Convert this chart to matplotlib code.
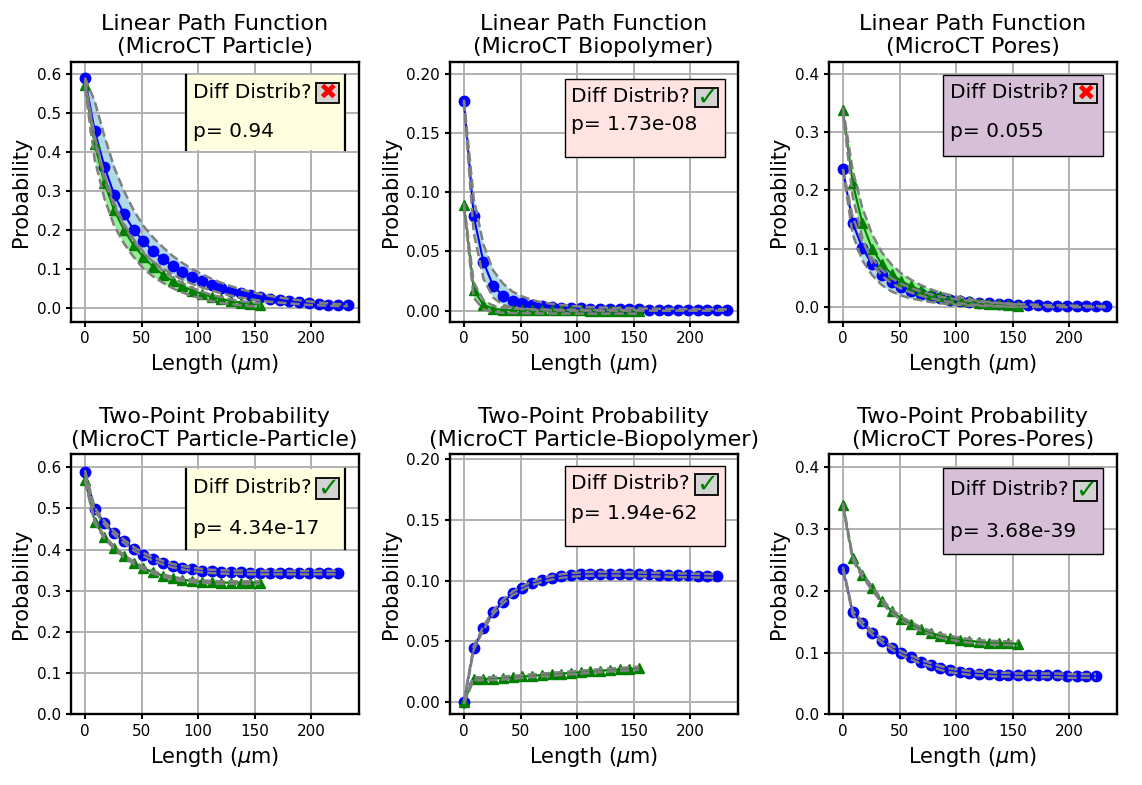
import numpy as np
import matplotlib
matplotlib.use('Agg')
import matplotlib.pyplot as plt
from matplotlib.patches import Rectangle

# sample spacing (um) of the two images
step = 8.6
len_long = np.arange(28) * step     # original, linear path
len_mid = np.arange(27) * step      # original, two-point
len_short = np.arange(19) * step    # generated

# ---- Linear path: Particle
lp_part_b = [0.588, 0.454, 0.362, 0.290, 0.241, 0.200, 0.170, 0.145, 0.125, 0.107, 0.092,
             0.079, 0.068, 0.058, 0.050, 0.043, 0.037, 0.032, 0.027, 0.023, 0.020, 0.017,
             0.014, 0.012, 0.010, 0.008, 0.007, 0.006]
lp_part_b_hi = [0.590, 0.530, 0.440, 0.360, 0.300, 0.250, 0.210, 0.180, 0.155, 0.133, 0.115,
                0.099, 0.086, 0.074, 0.064, 0.055, 0.047, 0.041, 0.035, 0.030, 0.026, 0.022,
                0.019, 0.016, 0.013, 0.011, 0.009, 0.008]
lp_part_b_lo = [0.585, 0.430, 0.330, 0.260, 0.210, 0.170, 0.140, 0.118, 0.100, 0.085, 0.072,
                0.061, 0.052, 0.044, 0.037, 0.031, 0.026, 0.022, 0.018, 0.015, 0.013, 0.011,
                0.009, 0.007, 0.006, 0.005, 0.004, 0.004]
lp_part_g = [0.570, 0.420, 0.320, 0.250, 0.200, 0.160, 0.130, 0.105, 0.085, 0.068, 0.055,
             0.044, 0.035, 0.028, 0.022, 0.017, 0.013, 0.010, 0.008]
lp_part_g_hi = [0.575, 0.440, 0.340, 0.270, 0.215, 0.175, 0.143, 0.117, 0.095, 0.077, 0.063,
                0.051, 0.041, 0.033, 0.027, 0.021, 0.017, 0.013, 0.011]
lp_part_g_lo = [0.565, 0.380, 0.280, 0.210, 0.165, 0.130, 0.100, 0.080, 0.064, 0.050, 0.039,
                0.030, 0.023, 0.017, 0.012, 0.009, 0.006, 0.004, 0.003]

# ---- Linear path: Biopolymer
lp_bio_b = [0.177, 0.080, 0.041, 0.021, 0.0125, 0.0085, 0.0062, 0.0048, 0.0038, 0.0031, 0.0026,
            0.0022, 0.0019, 0.0017, 0.0015, 0.0013, 0.0012, 0.0011, 0.0010, 0.0009, 0.0008,
            0.0008, 0.0007, 0.0007, 0.0006, 0.0006, 0.0006, 0.0005]
lp_bio_b_hi = [0.178, 0.095, 0.056, 0.034, 0.023, 0.016, 0.012, 0.009, 0.007, 0.0058, 0.0048,
               0.0040, 0.0034, 0.0030, 0.0027, 0.0024, 0.0022, 0.0020, 0.0018, 0.0017, 0.0016,
               0.0015, 0.0014, 0.0013, 0.0013, 0.0012, 0.0012, 0.0011]
lp_bio_b_lo = [0.176, 0.066, 0.027, 0.011, 0.005, 0.0025, 0.0013, 0.0007, 0.0004, 0.0002, 0.0001,
               0.0, 0.0, 0.0, 0.0, 0.0, 0.0, 0.0, 0.0, 0.0, 0.0, 0.0, 0.0, 0.0, 0.0, 0.0, 0.0, 0.0]
lp_bio_g = [0.0895, 0.0175, 0.005, 0.0015, 0.0008, 0.0005, 0.0004, 0.0003, 0.0003, 0.0002,
            0.0002, 0.0002, 0.0002, 0.0001, 0.0001, 0.0001, 0.0001, 0.0001, 0.0001]
lp_bio_g_hi = [0.091, 0.024, 0.009, 0.004, 0.0025, 0.0018, 0.0014, 0.0012, 0.0010, 0.0009,
               0.0008, 0.0008, 0.0007, 0.0007, 0.0006, 0.0006, 0.0006, 0.0005, 0.0005]
lp_bio_g_lo = [0.088, 0.011, 0.001, -0.001, -0.0017, -0.002, -0.0022, -0.0023, -0.0024, -0.0024,
               -0.0025, -0.0025, -0.0025, -0.0025, -0.0025, -0.0025, -0.0025, -0.0025, -0.0025]

# ---- Linear path: Pores
lp_pore_b = [0.236, 0.145, 0.101, 0.074, 0.055, 0.043, 0.034, 0.028, 0.023, 0.019, 0.016,
             0.013, 0.011, 0.0095, 0.008, 0.007, 0.006, 0.005, 0.0045, 0.004, 0.0035, 0.003,
             0.0027, 0.0024, 0.0021, 0.0019, 0.0017, 0.0015]
lp_pore_b_hi = [0.237, 0.155, 0.112, 0.084, 0.064, 0.050, 0.040, 0.033, 0.027, 0.022, 0.018,
                0.015, 0.013, 0.011, 0.0095, 0.0082, 0.0071, 0.0062, 0.0054, 0.0048, 0.0042,
                0.0037, 0.0033, 0.0030, 0.0027, 0.0024, 0.0022, 0.0020]
lp_pore_b_lo = [0.235, 0.125, 0.080, 0.055, 0.038, 0.027, 0.020, 0.015, 0.012, 0.009, 0.007,
                0.005, 0.004, 0.003, 0.0025, 0.002, 0.0015, 0.001, 0.0008, 0.0006, 0.0005,
                0.0004, 0.0003, 0.0002, 0.0002, 0.0001, 0.0001, 0.0]
lp_pore_g = [0.338, 0.213, 0.144, 0.100, 0.074, 0.057, 0.045, 0.036, 0.029, 0.023, 0.019,
             0.015, 0.012, 0.010, 0.008, 0.006, 0.005, 0.004, 0.003]
lp_pore_g_hi = [0.342, 0.235, 0.170, 0.125, 0.094, 0.073, 0.058, 0.047, 0.038, 0.031, 0.025,
                0.021, 0.017, 0.014, 0.011, 0.009, 0.0075, 0.006, 0.005]
lp_pore_g_lo = [0.334, 0.190, 0.118, 0.075, 0.054, 0.041, 0.032, 0.025, 0.020, 0.015, 0.012,
                0.009, 0.007, 0.005, 0.004, 0.003, 0.002, 0.001, 0.0005]

# ---- Two-point: Particle-Particle
tp_pp_b = [0.589, 0.498, 0.465, 0.440, 0.420, 0.402, 0.388, 0.377, 0.368, 0.361, 0.356, 0.352,
           0.349, 0.347, 0.346, 0.345, 0.345, 0.344, 0.344, 0.344, 0.344, 0.344, 0.344, 0.344,
           0.344, 0.344, 0.344]
tp_pp_g = [0.570, 0.468, 0.430, 0.405, 0.384, 0.368, 0.355, 0.345, 0.337, 0.331, 0.327, 0.324,
           0.322, 0.321, 0.320, 0.320, 0.320, 0.320, 0.320]
# ---- Two-point: Particle-Biopolymer
tp_pb_b = [0.000, 0.0445, 0.061, 0.074, 0.0827, 0.0895, 0.094, 0.0978, 0.1005, 0.1024, 0.1038,
           0.1047, 0.1053, 0.1056, 0.1057, 0.1057, 0.1056, 0.1055, 0.1053, 0.1051, 0.1049,
           0.1047, 0.1045, 0.1043, 0.1041, 0.1040, 0.1038]
tp_pb_g = [0.0, 0.0195, 0.0192, 0.0195, 0.0200, 0.0205, 0.0212, 0.0218, 0.0224, 0.0230, 0.0236,
           0.0242, 0.0248, 0.0254, 0.0260, 0.0265, 0.0270, 0.0275, 0.0280]
# ---- Two-point: Pores-Pores
tp_oo_b = [0.236, 0.165, 0.147, 0.132, 0.119, 0.108, 0.099, 0.092, 0.085, 0.080, 0.075, 0.071,
           0.069, 0.067, 0.066, 0.065, 0.064, 0.064, 0.063, 0.063, 0.063, 0.063, 0.063, 0.062,
           0.062, 0.062, 0.062]
tp_oo_g = [0.339, 0.253, 0.225, 0.204, 0.183, 0.167, 0.155, 0.146, 0.138, 0.132, 0.127, 0.124,
           0.121, 0.119, 0.117, 0.116, 0.1155, 0.115, 0.114]
# half widths of the (thin) bands in the two-point plots: blue, green
tp_spread = [(0.004, 0.003), (0.0015, 0.0012), (0.003, 0.003)]

titles = ['Linear Path Function\n(MicroCT Particle)',
          'Linear Path Function\n(MicroCT Biopolymer)',
          'Linear Path Function\n(MicroCT Pores)',
          'Two-Point Probability\n(MicroCT Particle-Particle)',
          'Two-Point Probability\n(MicroCT Particle-Biopolymer)',
          'Two-Point Probability\n(MicroCT Pores-Pores)']
p_values = [0.94, 1.73e-08, 0.055, 4.34e-17, 1.94e-62, 3.68e-39]
different = [False, True, False, True, True, True]
box_colors = ['lightyellow', 'mistyrose', 'thistle']

ylims = [(-0.036, 0.631), (-0.0093, 0.210), (-0.0247, 0.4206),
         (0.0, 0.6315), (-0.0099, 0.204), (0.0, 0.421)]
yticks = [np.arange(0, 0.61, 0.1), np.arange(0, 0.201, 0.05), np.arange(0, 0.41, 0.1)]

# box layout in axes fraction: x0, x1, y0, y1, text1 y, text2 y, icon y0, icon y1
box_pos = [(0.400, 0.952, 0.660, 0.949, 0.882, 0.731, 0.842, 0.917),
           (0.399, 0.955, 0.632, 0.933, 0.865, 0.757, 0.827, 0.898),
           (0.398, 0.954, 0.637, 0.949, 0.882, 0.731, 0.840, 0.914),
           (0.402, 0.954, 0.635, 0.945, 0.874, 0.714, 0.829, 0.910),
           (0.399, 0.955, 0.648, 0.955, 0.887, 0.772, 0.845, 0.923),
           (0.398, 0.954, 0.618, 0.949, 0.864, 0.703, 0.822, 0.899)]


def band(ax, x, y, lo, hi, color, fill, marker):
    ax.fill_between(x, lo, hi, color=fill, alpha=0.95, lw=0, zorder=1)
    ax.plot(x, y, '-', color=color, marker=marker, ms=7.5, lw=1.5, zorder=2)
    ax.plot(x, lo, '--', color='gray', lw=1.8, zorder=3)
    ax.plot(x, hi, '--', color='gray', lw=1.8, zorder=3)


def draw_box(ax, pos, color, sides_only, diff, p):
    x0, x1, y0, y1, t1, t2, i0, i1 = pos
    if sides_only:
        ax.add_patch(Rectangle((x0, y0), x1 - x0, y1 - y0, transform=ax.transAxes,
                               facecolor=color, edgecolor='none', zorder=5))
        for xx in (x0, x1):
            ax.plot([xx, xx], [y0, y1], color='black', lw=1.6,
                    transform=ax.transAxes, zorder=6)
    else:
        ax.add_patch(Rectangle((x0, y0), x1 - x0, y1 - y0, transform=ax.transAxes,
                               facecolor=color, edgecolor='black', lw=1.0, zorder=5))
    tx = x0 + 0.024
    ax.text(tx, t1, 'Diff Distrib?', transform=ax.transAxes, fontsize=14.5,
            va='center', ha='left', zorder=7)
    ax.text(tx, t2, 'p= %.3g' % p, transform=ax.transAxes, fontsize=14.5,
            va='center', ha='left', zorder=7)
    ix0, ix1 = 0.852, 0.933
    ax.add_patch(Rectangle((ix0, i0), ix1 - ix0, i1 - i0, transform=ax.transAxes,
                           facecolor='lightgray', edgecolor='black', lw=1.3, zorder=7))
    if diff:
        ax.text((ix0 + ix1) / 2, (i0 + i1) / 2, '\u2713', color='green', fontsize=19,
                fontweight='bold', transform=ax.transAxes, ha='center', va='center', zorder=8)
    else:
        ax.text((ix0 + ix1) / 2, (i0 + i1) / 2, '\u2716', color='red', fontsize=16,
                transform=ax.transAxes, ha='center', va='center', zorder=8)


fig, axes = plt.subplots(2, 3, figsize=(11.42, 7.85), dpi=100)
plt.subplots_adjust(left=0.0619, right=0.9778, bottom=0.0901, top=0.9214,
                    wspace=0.316, hspace=0.51)

top_data = [(lp_part_b, lp_part_b_lo, lp_part_b_hi, lp_part_g, lp_part_g_lo, lp_part_g_hi),
            (lp_bio_b, lp_bio_b_lo, lp_bio_b_hi, lp_bio_g, lp_bio_g_lo, lp_bio_g_hi),
            (lp_pore_b, lp_pore_b_lo, lp_pore_b_hi, lp_pore_g, lp_pore_g_lo, lp_pore_g_hi)]
bottom_data = [(tp_pp_b, tp_pp_g), (tp_pb_b, tp_pb_g), (tp_oo_b, tp_oo_g)]

for i, ax in enumerate(axes.flat):
    col = i % 3
    ax.grid(True, color='#b0b0b0', lw=1.4)
    if i < 3:
        b, blo, bhi, g, glo, ghi = top_data[col]
        band(ax, len_long, b, blo, bhi, 'blue', 'lightblue', 'o')
        band(ax, len_short, g, glo, ghi, 'green', 'lightgreen', '^')
    else:
        b, g = bottom_data[col]
        sb, sg = tp_spread[col]
        b = np.array(b)
        g = np.array(g)
        band(ax, len_mid, b, b - sb, b + sb, 'blue', 'lightblue', 'o')
        band(ax, len_short, g, g - sg, g + sg, 'green', 'lightgreen', '^')
    ax.set_xlim(-12.6, 241.8)
    ax.set_ylim(*ylims[i])
    ax.set_yticks(yticks[col])
    ax.set_xticks([0, 50, 100, 150, 200])
    ax.set_title(titles[i], fontsize=16)
    ax.set_xlabel(r'Length ($\mu$m)', fontsize=15)
    ax.set_ylabel('Probability', fontsize=15)
    ax.tick_params(labelsize=11, width=1.5, length=3.5)
    for s in ax.spines.values():
        s.set_linewidth(1.7)
    draw_box(ax, box_pos[i], box_colors[col], col == 0, different[i], p_values[i])

plt.savefig('out.png', dpi=100)
